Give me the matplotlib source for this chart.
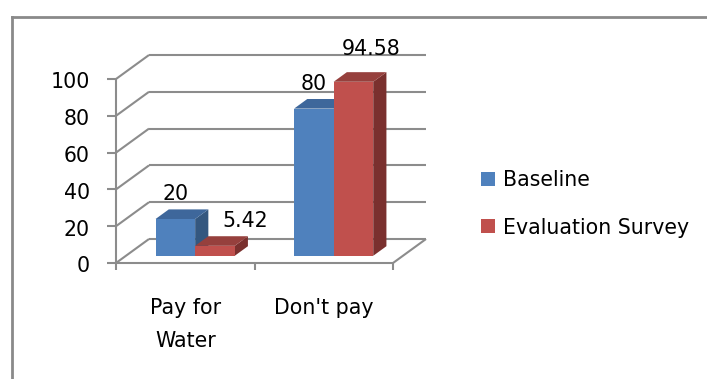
import matplotlib
matplotlib.use("Agg")
import matplotlib.pyplot as plt
from matplotlib.patches import Polygon, Rectangle
from matplotlib.lines import Line2D

# ---- data ----
categories = ["Pay for\nWater", "Don't pay"]
series_names = ["Baseline", "Evaluation Survey"]
baseline = [20, 80]
evaluation = [5.42, 94.58]
value_labels = [["20", "80"], ["5.42", "94.58"]]
y_ticks = [0, 20, 40, 60, 80, 100]

# ---- styling ----
W, H = 707, 379
FONT = 14.8
plt.rcParams["font.family"] = ["DejaVu Sans"]
grid_c = "#8c8c8c"
front_cols = ["#4F81BD", "#C0504D"]
top_cols = ["#3E679B", "#96403D"]
side_cols = ["#34577F", "#7A302E"]

fig = plt.figure(figsize=(W / 100, H / 100), dpi=100)

# plot area in pixel terms (front floor / front axis)
x0_px, x1_px = 116, 393
y0_px, y1_px = 263, 79
ax = fig.add_axes([x0_px / W, 1 - y0_px / H, (x1_px - x0_px) / W, (y0_px - y1_px) / H])
ax.set_xlim(0, len(categories))
ax.set_ylim(0, 100)
ax.axis("off")

ppx = (x1_px - x0_px) / len(categories)  # pixels per category unit
ppy = (y0_px - y1_px) / 100.0            # pixels per value unit
DX = 33 / ppx   # full depth offset, x
DY = 24 / ppy   # full depth offset, y

kw = dict(color=grid_c, lw=1.5, clip_on=False, solid_capstyle="butt", zorder=1)
# side wall + back wall gridlines
for v in y_ticks:
    ax.plot([0, DX], [v, v + DY], **kw)
    ax.plot([DX, len(categories) + DX], [v + DY, v + DY], **kw)
    ax.plot([-9 / ppx, 0], [v, v], **kw)
    ax.annotate(str(v), xy=(0, v), xytext=(-26, -9.5), textcoords="offset pixels",
                ha="right", va="baseline", fontsize=FONT, color="black")
# front axis
ax.plot([0, 0], [0, 100], **kw)
# floor
n = len(categories)
ax.plot([0, n], [0, 0], **kw)
ax.plot([n, n + DX], [0, DY], **kw)
for c in range(n + 1):
    ax.plot([c, c], [0, -7 / ppy], **kw)

# category labels
for c, lab in enumerate(categories):
    for i, line in enumerate(lab.split("\n")):
        ax.annotate(line, xy=(c + 0.5, 0), xytext=(0, -(314 - y0_px) - 33 * i),
                    textcoords="offset pixels", ha="center", va="baseline",
                    fontsize=FONT, color="black")

# 3D bars
gap = 1.5
bw = 1.0 / (len(series_names) + gap)
depth_front, depth_back = 0.3, 0.7
label_offsets = [[(0, 19), (0, 19)], [(30, 19), (18, 27)]]
all_series = [baseline, evaluation]
z = 3
for c in range(n):
    for s, vals in enumerate(all_series):
        v = vals[c]
        xl = c + bw * gap / 2 + s * bw + depth_front * DX
        xr = xl + bw
        yb = depth_front * DY
        yt = yb + v
        ddx = (depth_back - depth_front) * DX
        ddy = (depth_back - depth_front) * DY
        front = Polygon([(xl, yb), (xr, yb), (xr, yt), (xl, yt)], closed=True,
                        fc=front_cols[s], ec="none", clip_on=False, zorder=z)
        top = Polygon([(xl, yt), (xr, yt), (xr + ddx, yt + ddy), (xl + ddx, yt + ddy)],
                      closed=True, fc=top_cols[s], ec="none", clip_on=False, zorder=z)
        side = Polygon([(xr, yb), (xr + ddx, yb + ddy), (xr + ddx, yt + ddy), (xr, yt)],
                       closed=True, fc=side_cols[s], ec="none", clip_on=False, zorder=z)
        for p in (side, top, front):
            ax.add_patch(p)
        z += 1
        ox, oy = label_offsets[s][c]
        ax.annotate(value_labels[s][c], xy=((xl + xr) / 2, yt), xytext=(ox, oy),
                    textcoords="offset pixels", ha="center", va="baseline",
                    fontsize=FONT, color="black", zorder=20)

# legend
leg_rows = [179, 226]
for s, name in enumerate(series_names):
    cy = leg_rows[s]
    fig.add_artist(Rectangle((481 / W, 1 - (cy + 7) / H), 14 / W, 14 / H,
                             transform=fig.transFigure, fc=front_cols[s], ec="none"))
    fig.text(503 / W, 1 - (cy + 7.5) / H, name, ha="left", va="baseline",
             fontsize=FONT, color="black")

# chart frame
frame_kw = dict(transform=fig.transFigure, color="#8a8a8a", lw=2.0,
                solid_capstyle="projecting")
fig.add_artist(Line2D([12 / W, 1.01], [1 - 17 / H, 1 - 17 / H], **frame_kw))
fig.add_artist(Line2D([12 / W, 12 / W], [1 - 17 / H, -0.01], **frame_kw))

fig.savefig("out.png", dpi=100)
